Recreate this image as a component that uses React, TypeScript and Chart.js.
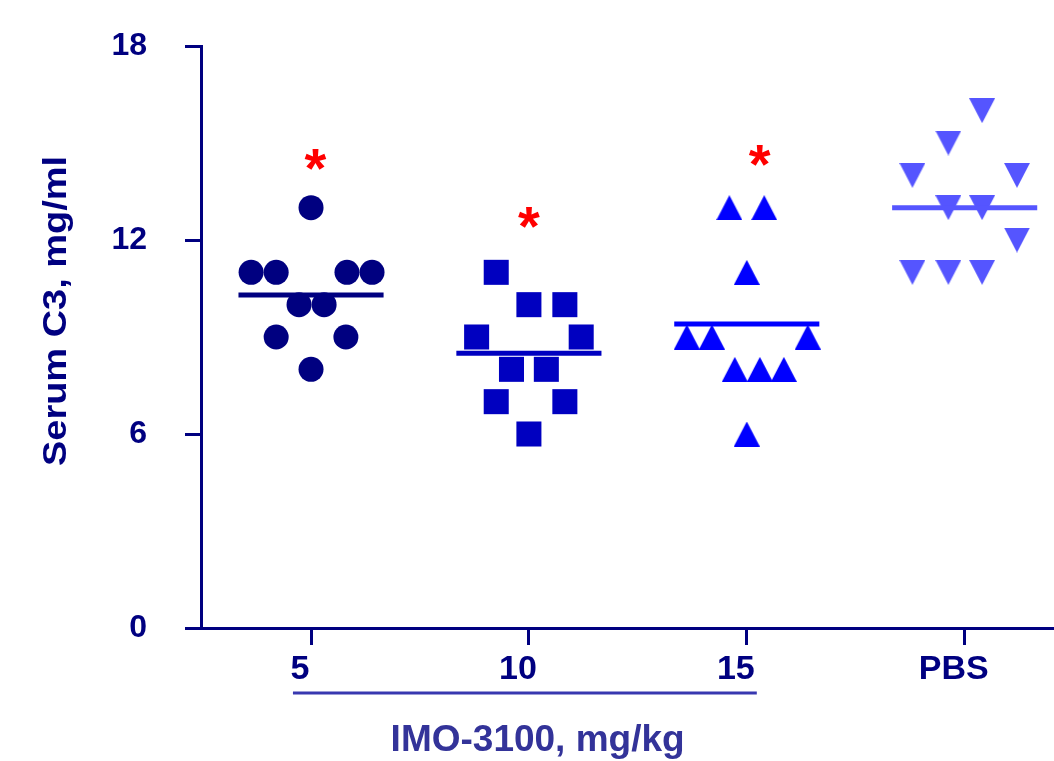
import React, { useEffect, useRef } from "react";
import { Chart, registerables } from "chart.js";

Chart.register(...registerables);

// ---------- data ----------
const categories = ["5", "10", "15", "PBS"];
const yTickValues = [0, 6, 12, 18];

const values5 = [13, 11, 11, 11, 11, 10, 10, 9, 9, 8];
const jitter5 = [0, -0.275, -0.16, 0.165, 0.28, -0.055, 0.06, -0.16, 0.16, 0];

const values10 = [11, 10, 10, 9, 9, 8, 8, 7, 7, 6];
const jitter10 = [-0.15, 0, 0.165, -0.24, 0.24, -0.08, 0.08, -0.15, 0.165, 0];

const values15 = [13, 13, 11, 9, 9, 9, 8, 8, 8, 6];
const jitter15 = [-0.08, 0.08, 0, -0.275, -0.16, 0.28, -0.055, 0.06, 0.17, 0];

const valuesPBS = [16, 15, 14, 14, 13, 13, 12, 11, 11, 11];
const jitterPBS = [0.08, -0.075, -0.24, 0.24, -0.075, 0.08, 0.24, -0.24, -0.075, 0.08];

// significance asterisks (data coordinates)
const starX = [1.02, 2.0, 3.06];
const starY = [14.5, 12.7, 14.6];

// bracket under the IMO-3100 dose groups (x data range)
const bracketFrom = 0.917;
const bracketTo = 3.046;

const yTitle = "Serum C3, mg/ml";
const xTitle = "IMO-3100, mg/kg";

// ---------- styles ----------
const NAVY = "#000080";
const C5 = "#000080";
const C10 = "#0000C0";
const C15 = "#0000FF";
const CPBS = "#5555FF";
const FONT = "'Liberation Sans', Arial, Helvetica, sans-serif";

function triangleImage(color: string, up: boolean, w = 26, h = 25) {
  const c = document.createElement("canvas");
  c.width = w;
  c.height = h;
  const g = c.getContext("2d")!;
  g.fillStyle = color;
  g.beginPath();
  if (up) {
    g.moveTo(w / 2, 0);
    g.lineTo(w, h);
    g.lineTo(0, h);
  } else {
    g.moveTo(0, 0);
    g.lineTo(w, 0);
    g.lineTo(w / 2, h);
  }
  g.closePath();
  g.fill();
  return c;
}

const mean = (a: number[]) => a.reduce((s, v) => s + v, 0) / a.length;

const annotationPlugin = {
  id: "annotations",
  afterDraw(chart: any) {
    const ctx = chart.ctx as CanvasRenderingContext2D;
    const xs = chart.scales.x;
    const ys = chart.scales.y;
    const area = chart.chartArea;
    ctx.save();

    // asterisks
    ctx.fillStyle = "#FF0000";
    ctx.font = `bold 56px ${FONT}`;
    ctx.textAlign = "left";
    ctx.textBaseline = "alphabetic";
    const m = ctx.measureText("*");
    for (let i = 0; i < starX.length; i++) {
      const cx = xs.getPixelForValue(starX[i]);
      const cy = ys.getPixelForValue(starY[i]);
      const bx = cx - (m.actualBoundingBoxRight - m.actualBoundingBoxLeft) / 2 + m.actualBoundingBoxLeft;
      const by = cy + (m.actualBoundingBoxAscent - m.actualBoundingBoxDescent) / 2;
      ctx.fillText("*", bx, by);
    }

    // bracket line
    const x0 = xs.getPixelForValue(bracketFrom);
    const x1 = xs.getPixelForValue(bracketTo);
    const by = area.bottom + 65;
    ctx.strokeStyle = "#3838B0";
    ctx.lineWidth = 3;
    ctx.beginPath();
    ctx.moveTo(x0, by);
    ctx.lineTo(x1, by);
    ctx.stroke();

    // x title
    ctx.fillStyle = "#333399";
    ctx.font = `bold 37px ${FONT}`;
    ctx.textAlign = "center";
    ctx.textBaseline = "middle";
    ctx.fillText(xTitle, xs.getPixelForValue(2.04), area.bottom + 113);

    // y title
    ctx.translate(57, 311);
    ctx.rotate(-Math.PI / 2);
    ctx.scale(1.15, 1);
    ctx.fillStyle = NAVY;
    ctx.font = `bold 33px ${FONT}`;
    ctx.textAlign = "center";
    ctx.textBaseline = "middle";
    ctx.fillText(yTitle, 0, 0);

    ctx.restore();
  },
};

export default function App() {
  const canvasRef = useRef<HTMLCanvasElement | null>(null);

  useEffect(() => {
    if (!canvasRef.current) return;

    const groups = [
      { values: values5, jitter: jitter5, color: C5, style: "circle" as any, radius: 12.5 },
      { values: values10, jitter: jitter10, color: C10, style: "rect" as any, radius: 17.7 },
      { values: values15, jitter: jitter15, color: C15, style: triangleImage(C15, true) as any, radius: 13 },
      { values: valuesPBS, jitter: jitterPBS, color: CPBS, style: triangleImage(CPBS, false) as any, radius: 13 },
    ];

    const datasets: any[] = [];
    groups.forEach((g, i) => {
      datasets.push({
        label: categories[i],
        data: g.values.map((v, j) => ({ x: i + 1 + g.jitter[j], y: v })),
        pointStyle: g.style,
        pointRadius: g.radius,
        pointHoverRadius: g.radius,
        backgroundColor: g.color,
        borderColor: g.color,
        borderWidth: 0,
        showLine: false,
        order: 2,
      });
      const m = mean(g.values);
      datasets.push({
        label: categories[i] + " mean",
        data: [
          { x: i + 1 - 0.333, y: m },
          { x: i + 1 + 0.333, y: m },
        ],
        showLine: true,
        borderColor: g.color,
        borderWidth: 5,
        pointRadius: 0,
        pointHoverRadius: 0,
        order: 1,
      });
    });

    const chart = new Chart(canvasRef.current, {
      type: "scatter",
      data: { datasets },
      options: {
        animation: false,
        responsive: true,
        maintainAspectRatio: false,
        layout: { autoPadding: false, padding: { top: 46, right: 0, bottom: 0, left: 0 } },
        plugins: {
          legend: { display: false },
          tooltip: { enabled: false },
        },
        scales: {
          x: {
            type: "linear",
            min: 0.495,
            max: 4.41,
            afterBuildTicks: (s: any) => {
              s.ticks = categories.map((_, i) => ({ value: i + 1 }));
            },
            afterFit: (s: any) => {
              s.height = 133;
              s.paddingLeft = 0;
              s.paddingRight = 0;
            },
            ticks: {
              autoSkip: false,
              maxRotation: 0,
              padding: 4,
              labelOffset: -11,
              color: NAVY,
              font: { family: FONT, size: 34, weight: "bold" },
              callback: (_v: any, idx: number) => categories[idx],
            },
            grid: {
              drawOnChartArea: false,
              drawTicks: true,
              tickLength: 17,
              lineWidth: 3,
              tickWidth: 3,
              color: NAVY,
              tickColor: NAVY,
            },
            border: { display: true, color: NAVY, width: 3 },
          },
          y: {
            type: "linear",
            min: 0,
            max: 18,
            afterBuildTicks: (s: any) => {
              s.ticks = yTickValues.map((v) => ({ value: v }));
            },
            afterFit: (s: any) => {
              s.width = 201;
              s.paddingTop = 0;
              s.paddingBottom = 0;
            },
            ticks: {
              padding: 38,
              color: NAVY,
              font: { family: FONT, size: 32, weight: "bold" },
            },
            grid: {
              drawOnChartArea: false,
              drawTicks: true,
              tickLength: 16,
              lineWidth: 3,
              tickWidth: 3,
              color: NAVY,
              tickColor: NAVY,
            },
            border: { display: true, color: NAVY, width: 3 },
          },
        },
      },
      plugins: [annotationPlugin],
    });

    return () => chart.destroy();
  }, []);

  return (
    <div style={{ position: "fixed", left: 0, top: 0, width: 1054, height: 761, background: "#fff" }}>
      <canvas ref={canvasRef} />
    </div>
  );
}
